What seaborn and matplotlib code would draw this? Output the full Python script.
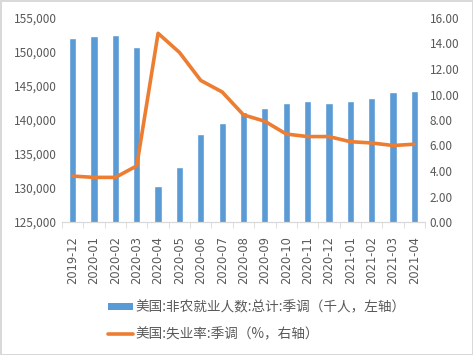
import matplotlib
matplotlib.use("Agg")
import matplotlib.pyplot as plt
import seaborn as sns
import numpy as np
import pandas as pd
from matplotlib.patches import Patch
from matplotlib.lines import Line2D

# --- Data ---
months = ["2019-12", "2020-01", "2020-02", "2020-03", "2020-04", "2020-05",
          "2020-06", "2020-07", "2020-08", "2020-09", "2020-10", "2020-11",
          "2020-12", "2021-01", "2021-02", "2021-03", "2021-04"]
payrolls = [152100, 152300, 152500, 150800, 130300, 133100, 137900, 139600,
            141200, 141800, 142500, 142800, 142500, 142800, 143300, 144100, 144300]
unemployment = [3.6, 3.5, 3.5, 4.4, 14.8, 13.3, 11.1, 10.2, 8.4, 7.9, 6.9,
                6.7, 6.7, 6.3, 6.2, 6.0, 6.1]

bar_label = "美国:非农就业人数:总计:季调（千人，左轴）"
line_label = "美国:失业率:季调（%，右轴）"

blue = "#5B9BD5"
orange = "#ED7D31"
grey = "#595959"

sns.set_style("white")
plt.rcParams['font.family'] = ['Noto Sans CJK SC', 'DejaVu Sans']

df = pd.DataFrame({"month": months, "payrolls": payrolls, "rate": unemployment})

fig = plt.figure(figsize=(4.73, 3.55), dpi=100)
fig.patch.set_edgecolor("#d9d9d9")
fig.patch.set_linewidth(2)
ax = fig.add_axes([62 / 473, 1 - 222 / 355, (425 - 62) / 473, (222 - 18) / 355])

sns.barplot(data=df, x="month", y="payrolls", color=blue, width=0.34,
            saturation=1, ax=ax)
ax.set_ylim(125000, 155000)
ax.set_yticks(np.arange(125000, 155001, 5000))
ax.set_yticklabels([f"{v:,}" for v in range(125000, 155001, 5000)])
ax.set_xlim(-0.5, len(months) - 0.5)
ax.set_xlabel("")
ax.set_ylabel("")

ax2 = ax.twinx()
sns.lineplot(x=np.arange(len(months)), y=df["rate"], color=orange,
             linewidth=2.6, ax=ax2)
ax2.set_ylim(0, 16)
ax2.set_yticks(np.arange(0, 16.1, 2))
ax2.set_yticklabels([f"{v:.2f}" for v in np.arange(0, 16.1, 2)])
ax2.set_ylabel("")
ax2.set_xlim(-0.5, len(months) - 0.5)

for a in (ax, ax2):
    for s in ("top", "left", "right"):
        a.spines[s].set_visible(False)
    a.spines["bottom"].set_color("#d9d9d9")
    a.tick_params(axis="y", length=0, labelsize=8.5, labelcolor=grey)

ax.set_xticks(np.arange(len(months)))
ax.set_xticklabels(months, rotation=90, fontsize=8.3, color=grey,
                   family="DejaVu Sans")
ax.tick_params(axis="x", which="major", length=0, pad=10)
ax.set_xticks(np.arange(-0.5, len(months)), minor=True)
ax.tick_params(axis="x", which="minor", length=4, color="#d9d9d9",
               direction="out", bottom=True)
ax.grid(False)
ax2.grid(False)

handles = [Patch(facecolor=blue, edgecolor="none"),
           Line2D([0], [0], color=orange, linewidth=2.6)]
fig.legend(handles, [bar_label, line_label], loc="center left",
           bbox_to_anchor=(108 / 473, 1 - 321 / 355), frameon=False,
           fontsize=9.8, labelcolor=grey, labelspacing=0.95,
           borderpad=0, borderaxespad=0,
           handlelength=1.85, handleheight=0.4, handletextpad=0.2)

fig.savefig("out.png", dpi=100)
